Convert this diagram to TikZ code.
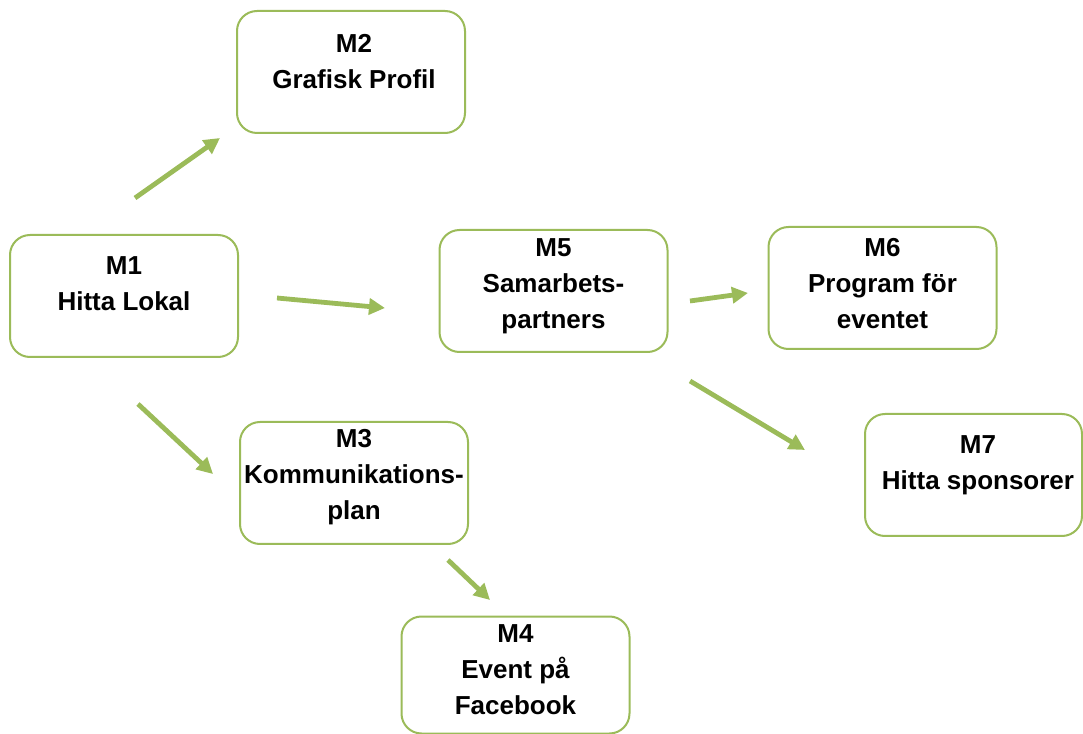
\documentclass[tikz,border=0pt]{standalone}
\usepackage{fontspec}
\setmainfont{Liberation Sans}
\usetikzlibrary{arrows.meta}
\begin{document}
\begin{tikzpicture}[x=0.75pt,y=-0.75pt]
%Define all colors here.
\definecolor{boxdraw}{RGB}{155,187,89}
\definecolor{arrowdraw}{RGB}{155,187,89}
\tikzset{
  mbox/.style={rectangle, rounded corners=15pt, draw=boxdraw, line width=1.5pt, fill=white,
    minimum width=171pt, minimum height=91.5pt, inner sep=0pt},
  mtext/.style={align=center, font=\bfseries\fontsize{19.5}{27}\selectfont, inner sep=0pt},
  marrow/.style={draw=arrowdraw, line width=3.6pt, -{Triangle[length=12pt,width=12pt]}}
}
\useasboundingbox (0,0) rectangle (1083,734);

\node(M1) at (124,296) [mbox] {};
\node(M1t) at (124,283.5) [mtext] {M1\\Hitta Lokal};

\node(M2) at (351,72) [mbox] {};
\node(M2t) at (354,61.5) [mtext] {M2\\Grafisk Profil};

\node(M3) at (354,483) [mbox] {};
\node(M3t) at (354,477) [mtext] {M3\\Kommunikations-\\plan};

\node(M4) at (515.5,675) [mbox, minimum height=87.75pt] {};
\node(M4t) at (515.5,670) [mtext] {M4\\Event på\\Facebook};

\node(M5) at (553.5,291) [mbox] {};
\node(M5t) at (553.5,286) [mtext] {M5\\Samarbets-\\partners};

\node(M6) at (882.5,288) [mbox] {};
\node(M6t) at (882.5,283.5) [mtext] {M6\\Program för\\eventet};

\node(M7) at (973.5,475) [mbox, minimum width=162.75pt] {};
\node(M7t) at (978,465) [mtext] {M7\\Hitta sponsorer};

%Arrow ends.
\coordinate(a12s) at (135,198);  \coordinate(a12e) at (220,138);
\coordinate(a15s) at (277,298);  \coordinate(a15e) at (385,308);
\coordinate(a13s) at (138,404);  \coordinate(a13e) at (213,474);
\coordinate(a34s) at (448,560);  \coordinate(a34e) at (490,600);
\coordinate(a56s) at (690,301);  \coordinate(a56e) at (748,293);
\coordinate(a57s) at (690,381);  \coordinate(a57e) at (805,450);

\draw[marrow] (a12s) -- (a12e);
\draw[marrow] (a15s) -- (a15e);
\draw[marrow] (a13s) -- (a13e);
\draw[marrow] (a34s) -- (a34e);
\draw[marrow] (a56s) -- (a56e);
\draw[marrow] (a57s) -- (a57e);
\end{tikzpicture}
\end{document}
